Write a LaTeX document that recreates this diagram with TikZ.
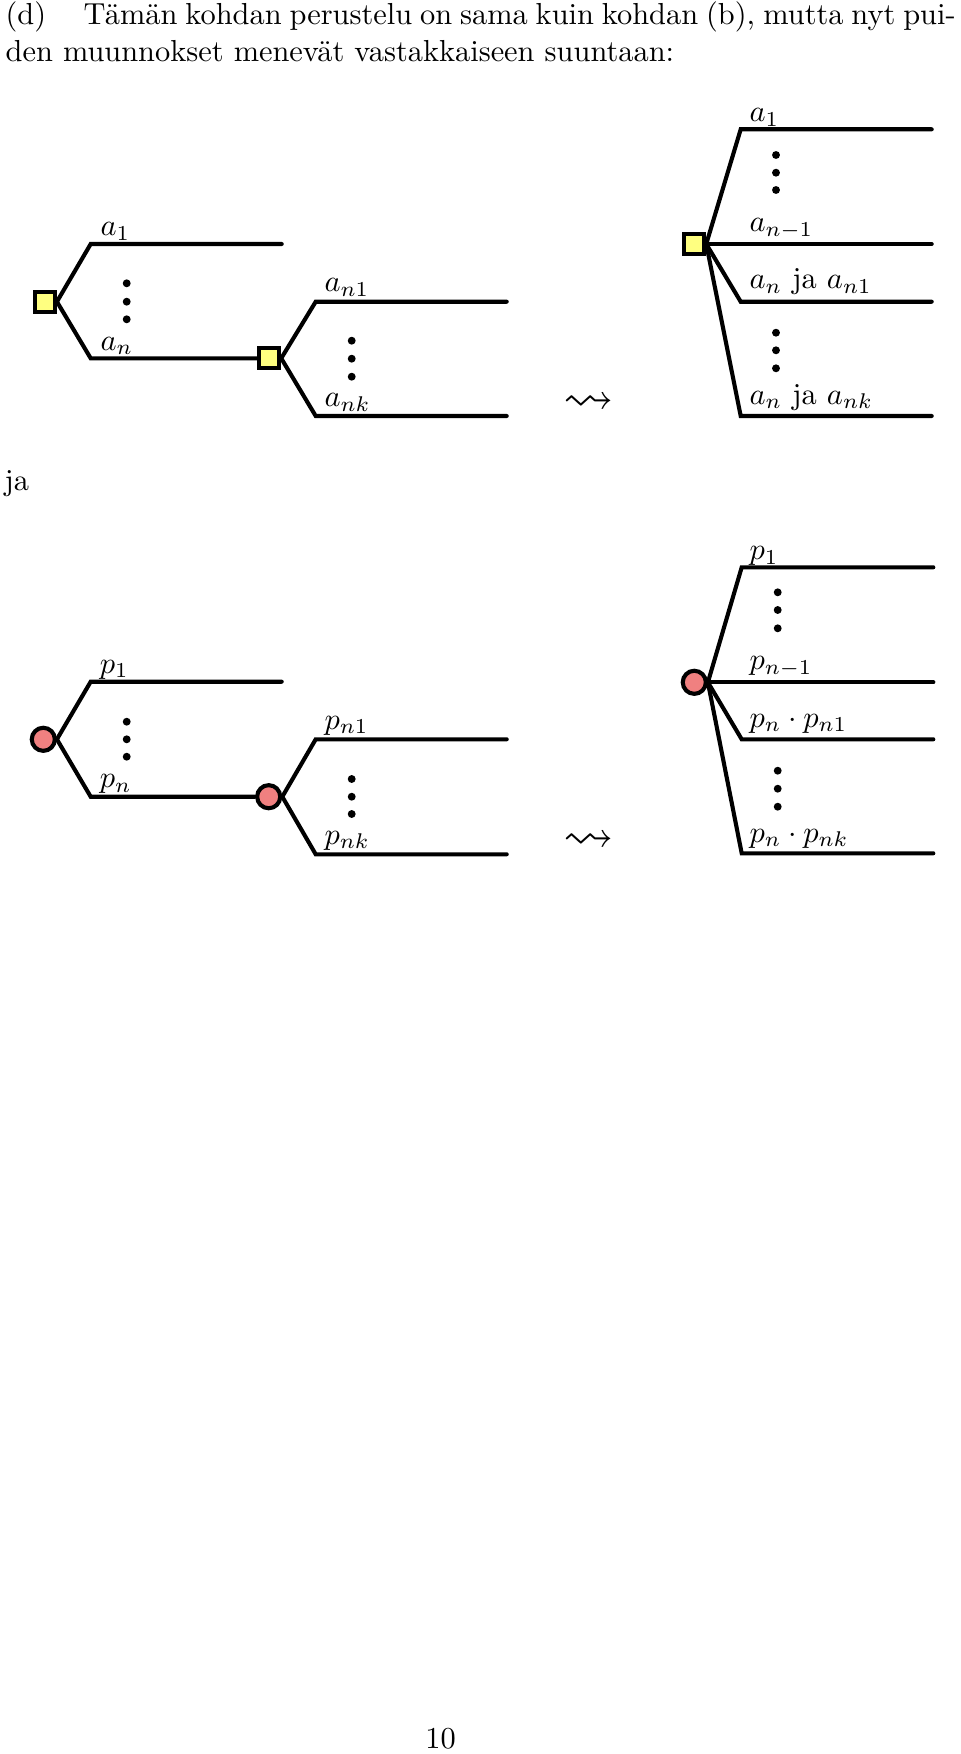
\documentclass[tikz,border=0pt]{standalone}
\usepackage{fontspec}
\usepackage{amssymb}
\definecolor{sqyellow}{RGB}{255,255,128}
\definecolor{cired}{RGB}{240,128,128}
\tikzset{
 sq/.style={draw, line width=1.35pt, fill=sqyellow, minimum size=6.5pt, inner sep=0pt},
 ci/.style={circle, draw, line width=1.35pt, fill=cired, minimum size=7.6pt, inner sep=0pt},
 br/.style={line width=1.35pt, line cap=round},
 dt/.style={fill=black, circle, inner sep=0pt, minimum size=2.6pt},
 lb/.style={anchor=base west, inner sep=0pt},
 sqa/.style={inner sep=0pt, font=\fontsize{16.6}{20}\selectfont},
}
\begin{document}
\begin{tikzpicture}[x=0.329pt,y=-0.329pt]
\useasboundingbox (0,0) rectangle (960,1754);
% text
\node[lb] (d) at (5,25) {(d)};
\node[lb] (l1) at (83,25) {\hbox to 286.9pt{Tämän kohdan perustelu on sama kuin kohdan (b), mutta nyt pui-}};
\node[lb] (l2) at (5,62) {den muunnokset menevät vastakkaiseen suuntaan:};
\node[lb] (ja) at (4,490) {ja};
\node[anchor=base, inner sep=0pt] (pg) at (440.5,1748) {10};

% ---------- top left ----------
\node[sq] (S1) at (45,301.7) {};
\node[sq] (S2) at (269.3,358.3) {};
\coordinate (c1) at (90.7,244); \coordinate (e1) at (281.7,244);
\coordinate (c2) at (90.7,358.3);
\coordinate (c3) at (315.7,301.7); \coordinate (e3) at (506.7,301.7);
\coordinate (c4) at (315.7,416); \coordinate (e4) at (506.7,416);
\draw[br] (S1.east) -- (c1) -- (e1);
\draw[br] (S1.east) -- (c2) -- (S2.west);
\draw[br] (S2.east) -- (c3) -- (e3);
\draw[br] (S2.east) -- (c4) -- (e4);
\node[dt] (da1) at (126.7,283.3) {};
\node[dt] (da2) at (126.7,301.7) {};
\node[dt] (da3) at (126.7,319.3) {};
\node[dt] (db1) at (351.7,340.7) {};
\node[dt] (db2) at (351.7,358.7) {};
\node[dt] (db3) at (351.7,376.7) {};
\node[lb] (la1) at (100,235.7) {$a_1$};
\node[lb] (la2) at (100,350) {$a_n$};
\node[lb] (la3) at (324,291.7) {$a_{n1}$};
\node[lb] (la4) at (324,406.7) {$a_{nk}$};

% ---------- top right ----------
\node[sq] (S3) at (694.3,244) {};
\coordinate (r1) at (740.7,129.3); \coordinate (f1) at (931.7,129.3);
\coordinate (f2) at (931.7,244);
\coordinate (r3) at (740.7,301.7); \coordinate (f3) at (931.7,301.7);
\coordinate (r4) at (740.7,416); \coordinate (f4) at (931.7,416);
\draw[br] (S3.east) -- (r1) -- (f1);
\draw[br] (S3.east) -- (f2);
\draw[br] (S3.east) -- (r3) -- (f3);
\draw[br] (S3.east) -- (r4) -- (f4);
\node[dt] (dc1) at (776,155) {};
\node[dt] (dc2) at (776,172.7) {};
\node[dt] (dc3) at (776,190) {};
\node[dt] (dd1) at (776,332.7) {};
\node[dt] (dd2) at (776,350.3) {};
\node[dt] (dd3) at (776,368.3) {};
\node[lb] (lr1) at (749,121.7) {$a_1$};
\node[lb] (lr2) at (749,231.7) {$a_{n-1}$};
\node[lb] (lr3) at (749,289) {$a_n$ ja $a_{n1}$};
\node[lb] (lr4) at (749,404) {$a_n$ ja $a_{nk}$};
\node[sqa] (arr1) at (588.5,403.5) {$\rightsquigarrow$};

% ---------- bottom left ----------
\node[ci] (C1) at (43.3,739.3) {};
\node[ci] (C2) at (268.7,796.7) {};
\coordinate (g1) at (90.7,681.7); \coordinate (h1) at (281.7,681.7);
\coordinate (g2) at (90.7,796.7);
\coordinate (g3) at (315.7,739.3); \coordinate (h3) at (506.7,739.3);
\coordinate (g4) at (315.7,854.3); \coordinate (h4) at (506.7,854.3);
\draw[br] (C1.east) -- (g1) -- (h1);
\draw[br] (C1.east) -- (g2) -- (C2.west);
\draw[br] (C2.east) -- (g3) -- (h3);
\draw[br] (C2.east) -- (g4) -- (h4);
\node[dt] (de1) at (126.7,721.7) {};
\node[dt] (de2) at (126.7,739.3) {};
\node[dt] (de3) at (126.7,756.7) {};
\node[dt] (df1) at (351.7,779) {};
\node[dt] (df2) at (351.7,796.7) {};
\node[dt] (df3) at (351.7,814) {};
\node[lb] (lp1) at (99.3,673.3) {$p_1$};
\node[lb] (lp2) at (99.3,787.6) {$p_n$};
\node[lb] (lp3) at (324,729.3) {$p_{n1}$};
\node[lb] (lp4) at (324,844.3) {$p_{nk}$};

% ---------- bottom right ----------
\node[ci] (C3) at (694.3,682.3) {};
\coordinate (s1) at (741.7,567.3); \coordinate (t1) at (933.3,567.3);
\coordinate (t2) at (933.3,682.3);
\coordinate (s3) at (741.7,739.3); \coordinate (t3) at (933.3,739.3);
\coordinate (s4) at (741.7,853.3); \coordinate (t4) at (933.3,853.3);
\draw[br] (C3.east) -- (s1) -- (t1);
\draw[br] (C3.east) -- (t2);
\draw[br] (C3.east) -- (s3) -- (t3);
\draw[br] (C3.east) -- (s4) -- (t4);
\node[dt] (dg1) at (777.7,592.3) {};
\node[dt] (dg2) at (777.7,610) {};
\node[dt] (dg3) at (777.7,628.3) {};
\node[dt] (dh1) at (777.7,770.7) {};
\node[dt] (dh2) at (777.7,788.7) {};
\node[dt] (dh3) at (777.7,806.7) {};
\node[lb] (lq1) at (749,559.7) {$p_1$};
\node[lb] (lq2) at (749,669.7) {$p_{n-1}$};
\node[lb] (lq3) at (749,727) {$p_n\cdot p_{n1}$};
\node[lb] (lq4) at (749,842) {$p_n\cdot p_{nk}$};
\node[sqa] (arr2) at (588.5,841.7) {$\rightsquigarrow$};
\end{tikzpicture}
\end{document}
